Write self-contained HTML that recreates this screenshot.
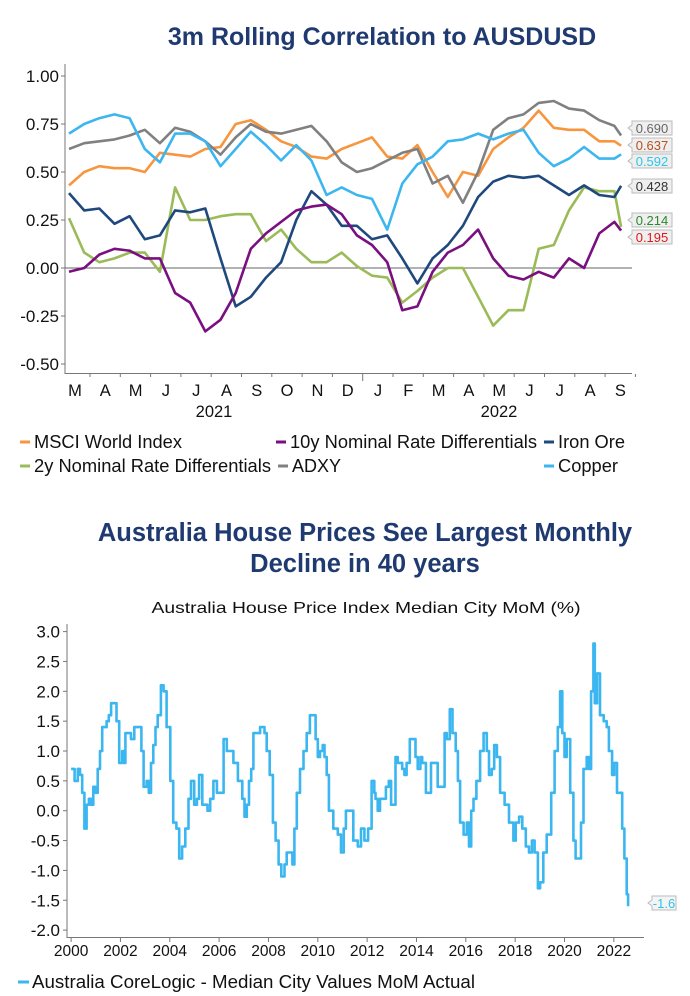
<!DOCTYPE html>
<html><head><meta charset="utf-8">
<style>
html,body{margin:0;padding:0;background:#fff;}
svg{display:block;font-family:"Liberation Sans",Arial,sans-serif;}
</style></head>
<body>
<svg id="root" width="690" height="996" viewBox="0 0 690 996">
<text x="382" y="45" text-anchor="middle" font-size="25" font-weight="bold" fill="#1f3a70">3m Rolling Correlation to AUSDUSD</text>
<g id="topg"></g>
<text x="365" y="541" text-anchor="middle" font-size="25.5" font-weight="bold" fill="#1f3a70">Australia House Prices See Largest Monthly</text>
<text x="365" y="572" text-anchor="middle" font-size="25.5" font-weight="bold" fill="#1f3a70">Decline in 40 years</text>
<text x="366" y="613" text-anchor="middle" font-size="16" textLength="429" lengthAdjust="spacingAndGlyphs" fill="#111">Australia House Price Index Median City MoM (%)</text>
<g id="botg"></g>
</svg>
<script>
// ---------- Top chart data (half-month steps from Mar 2021) ----------
const monthLabels = ["M","A","M","J","J","A","S","O","N","D","J","F","M","A","M","J","J","A","S"];
const yearLabels = ["2021","2022"];
const topTicks = [1.00,0.75,0.50,0.25,0.00,-0.25,-0.50];
const msci   = [.43,.50,.53,.52,.52,.50,.60,.59,.58,.62,.63,.75,.77,.72,.66,.63,.58,.57,.62,.65,.68,.58,.57,.64,.50,.37,.50,.48,.62,.68,.73,.82,.73,.72,.72,.66,.66,.637];
const tenY   = [-.02,0,.07,.10,.09,.05,.05,-.13,-.18,-.33,-.27,-.13,.10,.18,.24,.30,.32,.33,.28,.17,.12,.03,-.22,-.20,-.02,.08,.12,.20,.05,-.04,-.06,-.02,-.05,.05,0,.18,.24,.195];
const ironOre= [.39,.30,.31,.23,.27,.15,.17,.30,.29,.31,.05,-.20,-.15,-.05,.03,.25,.40,.33,.22,.22,.15,.17,.05,-.08,.05,.12,.22,.37,.45,.48,.47,.48,.43,.38,.43,.38,.37,.428];
const twoY   = [.26,.08,.03,.05,.08,.08,-.02,.42,.25,.25,.27,.28,.28,.14,.20,.10,.03,.03,.08,.01,-.04,-.05,-.18,-.12,-.05,0,0,-.15,-.30,-.22,-.22,.10,.12,.30,.42,.40,.40,.214];
const adxy   = [.62,.65,.66,.67,.69,.72,.65,.73,.71,.66,.59,.68,.75,.71,.70,.72,.74,.66,.55,.50,.52,.56,.60,.62,.44,.48,.34,.50,.72,.78,.80,.86,.87,.83,.82,.77,.74,.690];
const copper = [.70,.75,.78,.80,.78,.62,.55,.70,.70,.66,.53,.62,.71,.64,.56,.64,.56,.38,.42,.38,.36,.20,.44,.54,.58,.66,.67,.70,.67,.70,.72,.60,.53,.57,.63,.57,.57,.592];
const lastMonth = 18.22;

// ---------- Bottom chart data ----------
const houseYears = [0,.14,.27,.36,.45,.54,.63,.72,.81,.90,.99,1.08,1.17,1.26,1.44,1.53,1.62,1.75,1.84,1.95,2.07,2.13,2.20,2.43,2.56,2.70,2.85,2.94,3.06,3.15,3.24,3.33,3.42,3.51,3.64,3.75,3.87,4.02,4.14,4.27,4.38,4.50,4.63,4.76,4.86,4.99,5.10,5.19,5.32,5.46,5.53,5.64,5.77,5.91,6.05,6.18,6.31,6.45,6.58,6.76,6.94,7.03,7.12,7.21,7.30,7.39,7.57,7.66,7.84,7.93,8.05,8.18,8.29,8.41,8.52,8.65,8.74,8.92,8.97,9.05,9.15,9.28,9.42,9.55,9.68,9.82,9.91,10.00,10.09,10.20,10.27,10.36,10.45,10.63,10.81,10.94,11.05,11.14,11.35,11.44,11.62,11.75,11.89,12.04,12.18,12.29,12.34,12.43,12.52,12.65,12.76,12.88,12.97,13.12,13.15,13.24,13.42,13.51,13.60,13.73,13.87,13.96,14.05,14.16,14.23,14.38,14.50,14.59,14.74,14.86,15.05,15.14,15.23,15.35,15.46,15.59,15.68,15.77,15.91,16.04,16.13,16.22,16.31,16.43,16.58,16.72,16.85,16.94,17.05,17.15,17.26,17.39,17.57,17.75,17.93,18.02,18.16,18.29,18.43,18.56,18.68,18.79,18.92,19.01,19.14,19.28,19.46,19.60,19.73,19.82,19.91,20.00,20.09,20.23,20.36,20.45,20.58,20.67,20.77,20.90,20.99,21.08,21.17,21.23,21.32,21.44,21.59,21.71,21.80,21.93,22.02,22.13,22.25,22.34,22.43,22.52,22.58];
const houseMoM = [.7,.5,.7,.6,.3,-.3,.1,.2,.1,.4,.3,.7,1.0,1.4,1.5,1.6,1.8,1.8,1.5,.8,1.0,.8,1.3,1.2,1.4,1.4,1.0,.4,.5,.3,.8,1.1,1.4,1.6,2.1,2.0,1.4,.5,-.2,-.3,-.8,-.6,-.3,.2,.5,.1,.2,.6,.1,.1,0,.2,.5,.3,.3,1.2,1.0,1.0,.8,.5,.2,-.1,.1,.5,.7,1.3,1.3,1.4,1.3,1.0,.6,-.2,-.5,-.9,-1.1,-.9,-.7,-.7,-.9,-.3,.3,.7,1.0,1.3,1.6,1.6,1.2,.9,1.0,1.1,.9,.6,0,-.3,-.4,-.7,-.3,0,0,-.5,-.6,-.3,-.5,-.3,.5,.3,.2,0,.2,.2,.4,.5,.1,.1,.9,.8,.7,.6,.8,1.2,1.2,.9,.7,.9,.8,.3,.3,.8,.8,.4,.4,1.3,1.2,1.7,1.3,1.0,.5,-.2,-.4,-.2,-.6,0,.2,.5,1.0,1.3,1.0,.6,.7,1.1,.9,.3,.1,-.2,-.5,-.2,-.1,-.3,-.6,-.7,-.5,-.7,-1.3,-1.2,-.7,-.4,.3,1.0,1.4,2.0,1.3,.9,1.2,.3,-.5,-.8,-.8,-.2,.7,.9,.7,2.0,2.8,1.8,2.3,1.6,1.5,1.4,1.0,.6,.8,.3,.3,-.3,-.8,-1.4,-1.6];
const houseTicks = [3.0,2.5,2.0,1.5,1.0,0.5,0.0,-0.5,-1.0,-1.5,-2.0];
const houseYearLabels = ["2000","2002","2004","2006","2008","2010","2012","2014","2016","2018","2020","2022"];

const NS="http://www.w3.org/2000/svg";
function mk(parent,tag,attrs,text){const e=document.createElementNS(NS,tag);for(const k in attrs)e.setAttribute(k,attrs[k]);if(text!==undefined)e.textContent=text;parent.appendChild(e);return e;}

// ---------- TOP ----------
const topG=document.getElementById('topg');
const tx=m=>69+m*30.3;
const ty=v=>268-v*192;
let e;
e=mk(topG,'line',{x1:65,y1:64,x2:65,y2:374,stroke:'#777','stroke-width':1});


e=mk(topG,'line',{x1:65,y1:373.5,x2:632,y2:373.5,stroke:'#777','stroke-width':1});


e=mk(topG,'line',{x1:65,y1:ty(0),x2:632,y2:ty(0),stroke:'#666','stroke-width':1});


topTicks.forEach(t=>{
  e=mk(topG,'text',{x:59,y:ty(t)+6,'text-anchor':'end','font-size':17,fill:'#111'},t.toFixed(2));
  
  
  mk(topG,'line',{x1:61,y1:ty(t),x2:65,y2:ty(t),stroke:'#777'});
});
monthLabels.forEach((l,i)=>{
  e=mk(topG,'text',{x:tx(i)+6,y:396,'text-anchor':'middle','font-size':16.5,fill:'#111'},l);
  
  
  mk(topG,'line',{x1:tx(i)+21,y1:374,x2:tx(i)+21,y2:(i===9?381:377),stroke:'#777'});
});
yearLabels.forEach((l,i)=>{
  e=mk(topG,'text',{x:i===0?214:499,y:417,'text-anchor':'middle','font-size':16.5,fill:'#111'},l);
  
  
});
const topSeries=[
 {name:'msci',d:msci,c:'#f7963f'},
 {name:'two-year',d:twoY,c:'#9bbb59'},
 {name:'adxy',d:adxy,c:'#808080'},
 {name:'copper',d:copper,c:'#3bb6f0'},
 {name:'iron-ore',d:ironOre,c:'#1f497d'},
 {name:'ten-year',d:tenY,c:'#7a0f80'}];
topSeries.forEach(s=>{
  const pts=s.d.map((v,i)=>{const m=i<s.d.length-1?i*0.5:lastMonth;return tx(m).toFixed(1)+','+ty(v).toFixed(1);});
  e=mk(topG,'polyline',{points:pts.join(' '),fill:'none',stroke:s.c,'stroke-width':2.6,'stroke-linejoin':'round'});
  
  
});
const endLabels=[
 {v:adxy[adxy.length-1],y:128,c:'#666'},
 {v:msci[msci.length-1],y:145,c:'#b5521e'},
 {v:copper[copper.length-1],y:161,c:'#2ec4e8'},
 {v:ironOre[ironOre.length-1],y:186,c:'#333'},
 {v:twoY[twoY.length-1],y:220,c:'#2a8a2a'},
 {v:tenY[tenY.length-1],y:237,c:'#e01818'}];
endLabels.forEach(l=>{
  const g=mk(topG,'g',{});
  
  
  mk(g,'path',{d:`M632,${l.y-7} H672 V${l.y+7} H632 V${l.y+3} L628,${l.y} L632,${l.y-3} Z`,fill:'#efefef',stroke:'#bbb','stroke-width':1});
  mk(g,'text',{x:652,y:l.y+5,'text-anchor':'middle','font-size':13,fill:l.c},l.v.toFixed(3));
});
const legend=[
 {t:'MSCI World Index',c:'#f7963f',x:20,y:442,w:148},
 {t:'10y Nominal Rate Differentials',c:'#7a0f80',x:276,y:442,w:247},
 {t:'Iron Ore',c:'#1f497d',x:544,y:442,w:67},
 {t:'2y Nominal Rate Differentials',c:'#9bbb59',x:20,y:466,w:237},
 {t:'ADXY',c:'#808080',x:278,y:466,w:49},
 {t:'Copper',c:'#3bb6f0',x:544,y:466,w:60}];
legend.forEach(l=>{
  const g=mk(topG,'g',{});
  
  
  mk(g,'line',{x1:l.x,y1:l.y,x2:l.x+10,y2:l.y,stroke:l.c,'stroke-width':3});
  mk(g,'text',{x:l.x+14,y:l.y+6,'font-size':18,fill:'#111',textLength:l.w,lengthAdjust:'spacingAndGlyphs'},l.t);
});

// ---------- BOTTOM ----------
const botG=document.getElementById('botg');
const bx=t=>71.1+t*24.67;
const by=v=>810.7-v*59.7;
e=mk(botG,'line',{x1:67,y1:624,x2:67,y2:938,stroke:'#777'});


e=mk(botG,'line',{x1:67,y1:937.5,x2:644,y2:937.5,stroke:'#777'});


houseTicks.forEach(t=>{
  e=mk(botG,'text',{x:60,y:by(t)+6,'text-anchor':'end','font-size':17,fill:'#111'},t.toFixed(1));
  
  
  mk(botG,'line',{x1:63,y1:by(t),x2:67,y2:by(t),stroke:'#777'});
});
houseYearLabels.forEach((l,i)=>{
  e=mk(botG,'text',{x:bx(i*2),y:956,'text-anchor':'middle','font-size':15.5,fill:'#111'},l);
  
  
  mk(botG,'line',{x1:bx(i*2),y1:938,x2:bx(i*2),y2:942,stroke:'#777'});
});
let dstr='';
houseMoM.forEach((v,i)=>{
  const x=bx(houseYears[i]).toFixed(1), y=by(v).toFixed(1);
  if(i===0) dstr+='M'+x+','+y; else dstr+=' H'+x+' V'+y;
});
e=mk(botG,'path',{d:dstr,fill:'none',stroke:'#3bb6f0','stroke-width':2.6,'stroke-linejoin':'round'});


const lastV=houseMoM[houseMoM.length-1];
const lg=mk(botG,'g',{});


const ly=903;
mk(lg,'path',{d:`M652,${ly-7} H676 V${ly+7} H652 V${ly+3} L648,${ly} L652,${ly-3} Z`,fill:'#f4f4f4',stroke:'#bbb'});
mk(lg,'text',{x:664,y:ly+5,'text-anchor':'middle','font-size':13,fill:'#2ec4e8'},lastV.toFixed(1));
const bl=mk(botG,'g',{});


mk(bl,'line',{x1:18,y1:982,x2:29,y2:982,stroke:'#3bb6f0','stroke-width':3});
mk(bl,'text',{x:32,y:988,'font-size':18,fill:'#111',textLength:443,lengthAdjust:'spacingAndGlyphs'},'Australia CoreLogic - Median City Values MoM Actual');
</script>
</body></html>
